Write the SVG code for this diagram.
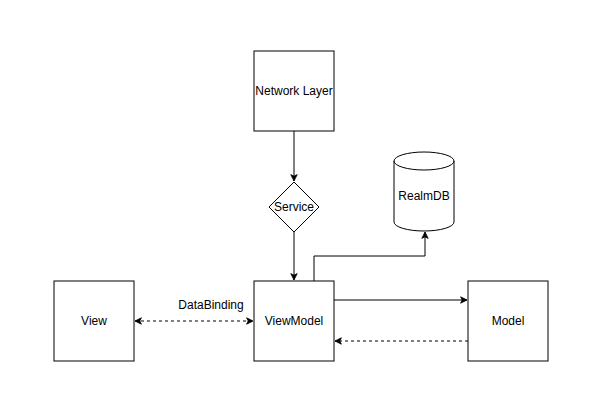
<svg xmlns="http://www.w3.org/2000/svg" width="600" height="400" viewBox="0 0 600 400">
<defs>
<style>
.n{fill:#fff;stroke:#000;stroke-width:1}
.t{font-family:"Liberation Sans",Arial,sans-serif;font-size:12px;fill:#000;text-anchor:middle;dominant-baseline:central}
.e{fill:none;stroke:#000;stroke-width:1}
.d{stroke-dasharray:3 3}
</style>
<marker id="a" viewBox="0 0 10 10" refX="9" refY="5" markerWidth="8" markerHeight="8" orient="auto-start-reverse" markerUnits="userSpaceOnUse">
<path d="M1,1 L9,5 L1,9 L3,5 Z" fill="#000" stroke="#000"/>
</marker>
</defs>
<rect width="600" height="400" fill="#fff"/>
<g id="connectors">
<path class="e" d="M294,131 V181" marker-end="url(#a)"/>
<path class="e" d="M294,232 V280" marker-end="url(#a)"/>
<path class="e" d="M314,281 V256 H425 V232" marker-end="url(#a)"/>
<path class="e d" d="M135,321 H253" marker-start="url(#a)" marker-end="url(#a)"/>
<path class="e" d="M334,300 H467" marker-end="url(#a)"/>
<path class="e d" d="M468,341 H335" marker-end="url(#a)"/>
<text class="t" x="211" y="305">DataBinding</text>
</g>
<g id="network-layer">
<rect class="n" x="254" y="51" width="80" height="80"/>
<text class="t" x="294" y="91">Network Layer</text>
</g>
<g id="service">
<path class="n" d="M294,182 L319,207 L294,232 L269,207 Z"/>
<text class="t" x="294" y="207">Service</text>
</g>
<g id="realmdb">
<path class="n" d="M394,161 A30,9 0 0 1 454,161 V222 A30,9 0 0 1 394,222 Z"/>
<path class="e" d="M394,161 A30,9 0 0 0 454,161"/>
<text class="t" x="424" y="196">RealmDB</text>
</g>
<g id="view">
<rect class="n" x="54" y="281" width="80" height="80"/>
<text class="t" x="94" y="321">View</text>
</g>
<g id="viewmodel">
<rect class="n" x="254" y="281" width="80" height="80"/>
<text class="t" x="294" y="321">ViewModel</text>
</g>
<g id="model">
<rect class="n" x="468" y="281" width="80" height="80"/>
<text class="t" x="508" y="321">Model</text>
</g>
</svg>
